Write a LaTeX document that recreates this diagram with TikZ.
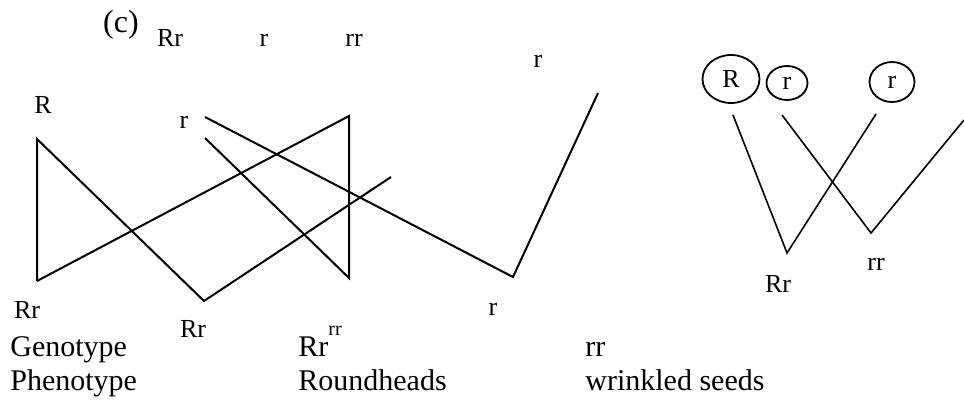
\documentclass[tikz,border=0pt]{standalone}
\usepackage{fontspec}
\setmainfont{Liberation Serif}
\usetikzlibrary{shapes.geometric}
\tikzset{
  lbl/.style={font=\fontsize{13}{15}\selectfont, inner sep=0pt, anchor=base},
  tinylbl/.style={font=\fontsize{10}{12}\selectfont, inner sep=0pt, anchor=base},
  rowtext/.style={font=\fontsize{15}{18}\selectfont, inner sep=0pt, anchor=base west},
  wire/.style={line width=1pt, line join=miter},
  thinwire/.style={line width=0.8pt},
  gamete/.style={ellipse, draw, line width=0.9pt, inner sep=0pt,
    font=\fontsize{13}{15}\selectfont},
}

\begin{document}
\begin{tikzpicture}[x=0.5pt, y=-0.5pt]
\useasboundingbox (0,0) rectangle (964,402);

%% ---- LEFT CROSS: LABELS ----
\node[font=\fontsize{16}{19}\selectfont, inner sep=0pt, anchor=base] (part) at (121,32) {(c)};
\node[lbl] (topRr) at (170,46) {Rr};
\node[lbl] (topr)  at (264,46) {r};
\node[lbl] (toprr) at (354,46) {rr};
\node[lbl] (farr)  at (538,67) {r};
\node[lbl] (labR)  at (43,113) {R};
\node[lbl] (labr)  at (184,128) {r};
\node[lbl] (botRr) at (27,318) {Rr};
\node[lbl] (midRr) at (193,337) {Rr};
\node[lbl] (botr)  at (493,315) {r};

%% ---- LEFT CROSS: LINES ----
\coordinate (a1) at (37,139);
\coordinate (a2) at (37,281);
\coordinate (b1) at (205,117);
\coordinate (b2) at (205,138);
\coordinate (c1) at (349,116);
\coordinate (c2) at (349,278);
\coordinate (v)  at (204,301);
\coordinate (e)  at (391,177);
\coordinate (w)  at (513,277);
\coordinate (f)  at (598,93);

\draw[wire] (a2) -- (a1) -- (v) -- (e);
\draw[wire] (a2) -- (c1) -- (c2) -- (b2);
\draw[wire] (b1) -- (w) -- (f);

%% ---- RIGHT CROSS ----
\node[gamete, minimum width=28.5pt, minimum height=24pt] (gR)  at (731,79) {R};
\node[gamete, minimum width=20.5pt, minimum height=17pt] (gr1) at (787,83) {r};
\node[gamete, minimum width=22.5pt, minimum height=20pt] (gr2) at (892,82) {r};

\coordinate (g1) at (733,115);
\coordinate (g2) at (787,253);
\coordinate (g3) at (876,114);
\coordinate (h1) at (782,115);
\coordinate (h2) at (871,233);
\coordinate (h3) at (964,120);

\draw[thinwire] (g1) -- (g2) -- (g3);
\draw[thinwire] (h1) -- (h2) -- (h3);

\node[lbl] (rightRr) at (778,292) {Rr};
\node[lbl] (rightrr) at (876,270) {rr};

%% ---- GENOTYPE / PHENOTYPE ROWS ----
\node[rowtext] (geno)  at (10,356)  {Genotype};
\node[rowtext] (genoA) at (298,356) {Rr};
\node[tinylbl] (sup)   at (335,335) {rr};
\node[rowtext] (genoB) at (585,356) {rr};
\node[rowtext] (pheno)  at (10,390)  {Phenotype};
\node[rowtext] (phenoA) at (298,390) {Roundheads};
\node[rowtext] (phenoB) at (585,390) {wrinkled seeds};

\end{tikzpicture}
\end{document}
